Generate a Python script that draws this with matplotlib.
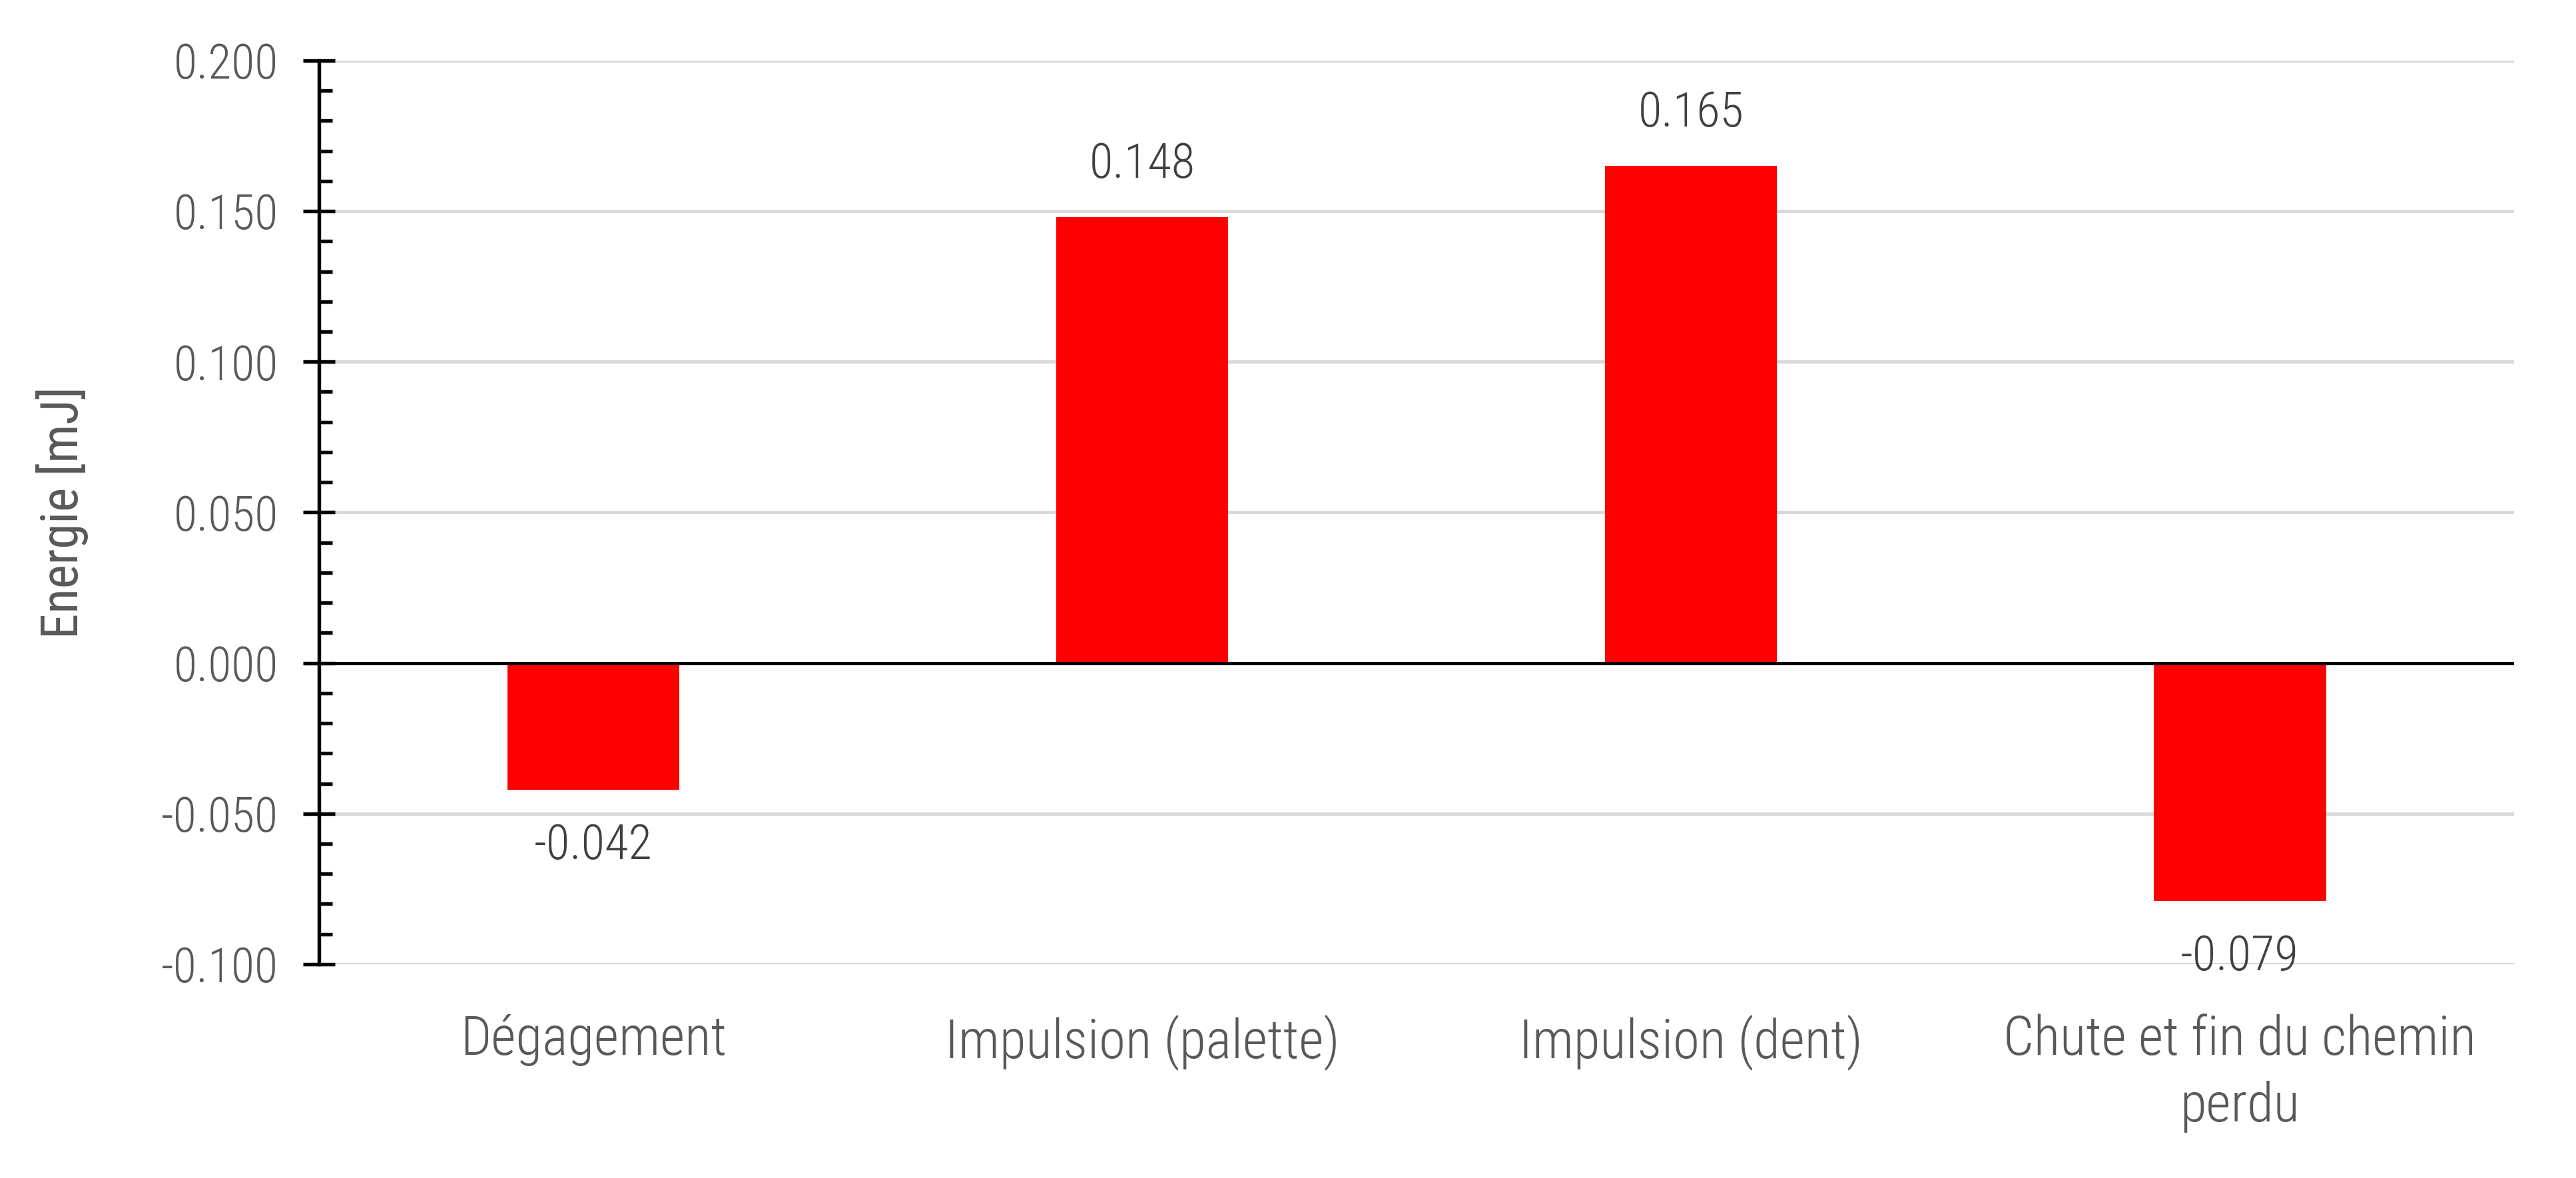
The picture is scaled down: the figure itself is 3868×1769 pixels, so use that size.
import matplotlib
matplotlib.use('Agg')
import matplotlib.pyplot as plt
from matplotlib.ticker import MultipleLocator, FormatStrFormatter
import numpy as np

# Données
categories = ['Dégagement', 'Impulsion (palette)', 'Impulsion (dent)', 'Chute et fin du chemin\nperdu']
energie = [-0.042, 0.148, 0.165, -0.079]
etiquettes = ['-0.042', '0.148', '0.165', '-0.079']

plt.rcParams['font.family'] = ['Roboto Condensed', 'Barlow Semi Condensed', 'DejaVu Sans']
plt.rcParams['font.weight'] = 300

fig = plt.figure(figsize=(3868 / 300, 1769 / 300), dpi=300)
ax = fig.add_axes([0.1238, 0.1815, 0.976 - 0.1238, 0.9486 - 0.1815])

x = np.arange(len(categories))
ax.bar(x, energie, width=0.314, color='#FF0000', zorder=3)

ax.set_xlim(-0.5, len(categories) - 0.5)
ax.set_ylim(-0.1, 0.2)

# Grille
ax.yaxis.set_major_locator(MultipleLocator(0.05))
ax.yaxis.set_minor_locator(MultipleLocator(0.01))
ax.yaxis.set_major_formatter(FormatStrFormatter('%.3f'))
ax.grid(axis='y', which='major', color='#D9D9D9', linewidth=1.2, zorder=0)
ax.axhline(0, color='black', linewidth=1.2, zorder=4)

for s in ['top', 'right', 'bottom']:
    ax.spines[s].set_visible(False)
ax.spines['left'].set_linewidth(1.3)
ax.spines['left'].set_zorder(5)

ax.tick_params(axis='y', which='major', direction='inout', length=11.3, width=1.3,
               labelsize=17.3, labelcolor='#595959', pad=9)
ax.tick_params(axis='y', which='minor', direction='in', length=4.8, width=1.3)
ax.tick_params(axis='x', length=0, labelsize=19.5, labelcolor='#595959', pad=18)

ax.set_xticks(x)
ax.set_xticklabels(categories, linespacing=1.35)
ax.set_ylabel('Energie [mJ]', fontsize=18.5, color='#595959', labelpad=26)

# Étiquettes de données
for xi, v, lab in zip(x, energie, etiquettes):
    if v >= 0:
        ax.annotate(lab, (xi, v), xytext=(0, 10.5), textcoords='offset points',
                    ha='center', va='bottom', fontsize=17.5, color='#404040')
    else:
        ax.annotate(lab, (xi, v), xytext=(0, -12), textcoords='offset points',
                    ha='center', va='top', fontsize=17.5, color='#404040')

fig.savefig('out.png', dpi=300)
